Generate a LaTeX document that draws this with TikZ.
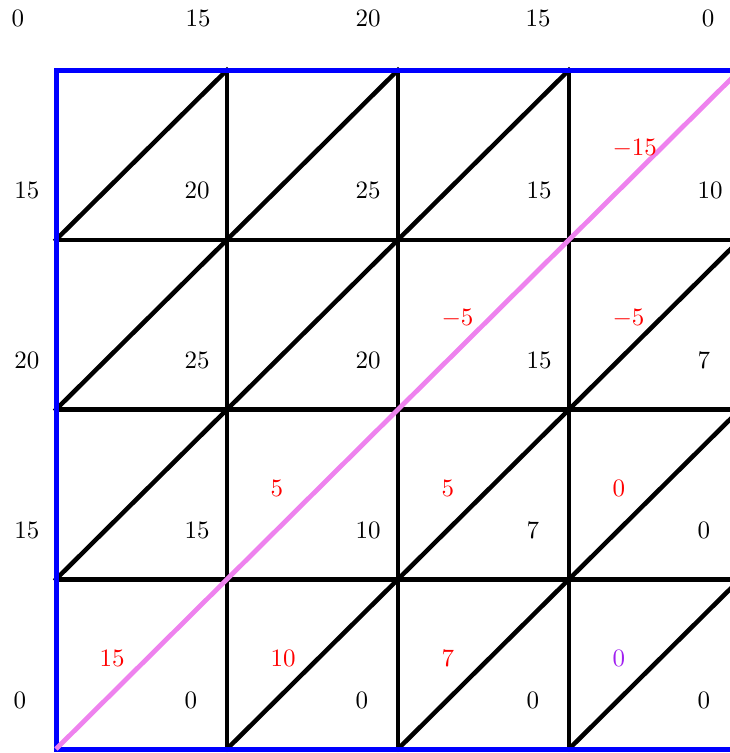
\documentclass[tikz,border=0pt]{standalone}
\usepackage{xcolor}
\definecolor{pinkline}{RGB}{238,130,238}
\definecolor{purpletext}{RGB}{160,32,240}
\tikzset{
  gridline/.style={line width=1.8pt,black,line cap=rect},
  borderline/.style={line width=2pt,blue,line cap=rect},
  diagline/.style={line width=1.9pt,pinkline},
  lab/.style={inner sep=0pt,anchor=center},
  cellnum/.style={inner sep=0pt,anchor=west},
  rednum/.style={inner sep=0pt,anchor=west,red},
}
\begin{document}
\begin{tikzpicture}[x=0.4pt,y=-0.4pt]
\useasboundingbox (0,0) rectangle (730,753);
\clip (0,0) rectangle (730,753);
% grid coordinates
\foreach \n/\x in {1/56,2/227,3/398,4/569,5/740}{
  \foreach \m/\y in {1/70,2/239.75,3/409.5,4/579.25,5/749}{
    \coordinate (p\m\n) at (\x,\y);
  }
}
% black grid lines
\foreach \n in {2,3,4}{ \draw[gridline] (p1\n) -- (p5\n); }
\foreach \m in {2,3,4}{ \draw[gridline] (p\m1) -- (p\m5); }
% black diagonals
\foreach \r/\c/\rr/\cc in {1/1/2/2,1/2/2/3,1/3/2/4,
                           2/1/3/2,2/2/3/3,2/4/3/5,
                           3/1/4/2,3/3/4/4,3/4/4/5,
                           4/2/5/3,4/3/5/4,4/4/5/5}{
  \draw[gridline] (p\rr\c) -- (p\r\cc);
}
% blue border
\draw[borderline] (p15) -- (p11) -- (p51) -- (p55) -- cycle;
% pink main diagonal
\draw[diagline] (p51) -- (p15);
% top labels
\node[lab] (t0) at (18,18) {$0$};
\node[lab] (t1) at (198,18) {$15$};
\node[lab] (t2) at (368,18) {$20$};
\node[lab] (t3) at (538,18) {$15$};
\node[lab] (t4) at (708,18) {$0$};
% left labels
\node[lab] (l1) at (27,190) {$15$};
\node[lab] (l2) at (27,360) {$20$};
\node[lab] (l3) at (27,530) {$15$};
\node[lab] (l4) at (20,700) {$0$};
% black cell numbers
\node[cellnum] (b11) at (184,190) {$20$};
\node[cellnum] (b12) at (355,190) {$25$};
\node[cellnum] (b13) at (526,190) {$15$};
\node[cellnum] (b14) at (697,190) {$10$};
\node[cellnum] (b21) at (184,360) {$25$};
\node[cellnum] (b22) at (355,360) {$20$};
\node[cellnum] (b23) at (526,360) {$15$};
\node[cellnum] (b24) at (697,360) {$7$};
\node[cellnum] (b31) at (184,530) {$15$};
\node[cellnum] (b32) at (355,530) {$10$};
\node[cellnum] (b33) at (526,530) {$7$};
\node[cellnum] (b34) at (697,530) {$0$};
\node[cellnum] (b41) at (184,700) {$0$};
\node[cellnum] (b42) at (355,700) {$0$};
\node[cellnum] (b43) at (526,700) {$0$};
\node[cellnum] (b44) at (697,700) {$0$};
% red cell numbers
\node[rednum] (r14) at (612,148) {$-15$};
\node[rednum] (r23) at (441,318) {$-5$};
\node[rednum] (r24) at (612,318) {$-5$};
\node[rednum] (r32) at (270,488) {$5$};
\node[rednum] (r33) at (441,488) {$5$};
\node[rednum] (r34) at (612,488) {$0$};
\node[rednum] (r41) at (99,658) {$15$};
\node[rednum] (r42) at (270,658) {$10$};
\node[rednum] (r43) at (441,658) {$7$};
\node[rednum,purpletext] (r44) at (612,658) {$0$};
\end{tikzpicture}
\end{document}
